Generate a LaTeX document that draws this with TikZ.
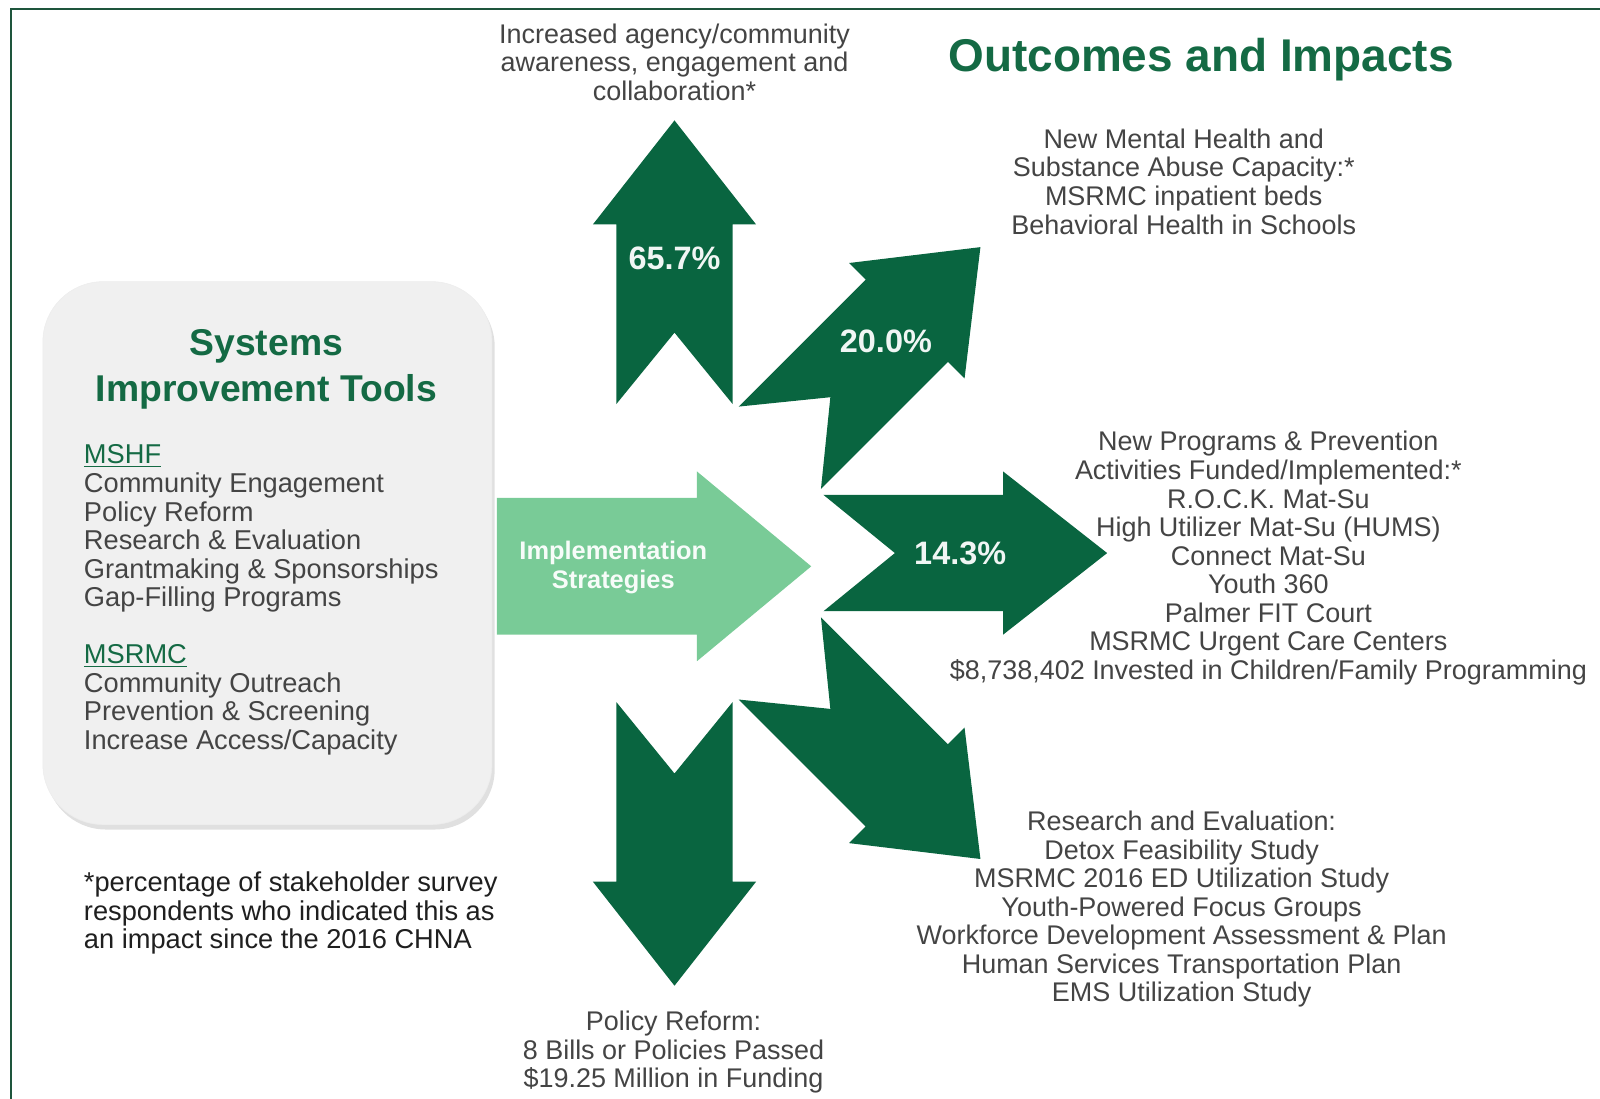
\documentclass[tikz,border=0pt]{standalone}
\usepackage{fontspec}
\setmainfont{Liberation Sans}
\usetikzlibrary{positioning,calc,shadows}

\definecolor{leafdark}{RGB}{9,101,64}
\definecolor{leaflight}{RGB}{121,203,151}
\definecolor{headgreen}{RGB}{20,106,68}
\definecolor{framegreen}{RGB}{30,85,60}
\definecolor{textgray}{RGB}{68,68,68}
\definecolor{panelgray}{RGB}{240,240,240}

\begin{document}
\begin{tikzpicture}[
  x=0.25mm, y=0.25mm,
  frame/.style={draw=framegreen, line width=1.4pt},
  leaf/.style={fill=leafdark},
  strategy/.style={fill=leaflight},
  outcome/.style={
    text=textgray,
    align=center,
    inner sep=0pt,
    font=\fontsize{18.8}{19.9}\selectfont
  },
  headline/.style={
    text=headgreen,
    inner sep=0pt,
    font=\bfseries\fontsize{32}{36}\selectfont
  },
  pct/.style={
    text=white!94!leafdark,
    inner sep=0pt,
    font=\bfseries\fontsize{22.6}{25}\selectfont
  },
  strategytext/.style={
    text=white!94!leaflight,
    align=center,
    inner sep=0pt,
    font=\bfseries\fontsize{17.7}{19.9}\selectfont
  },
  panel/.style={
    fill=panelgray,
    draw=black!7,
    rounded corners=42pt,
    minimum width=110mm,
    minimum height=133mm,
    drop shadow={shadow xshift=2pt, shadow yshift=-3.5pt, fill=black!30, opacity=.4}
  },
  panelhead/.style={
    text=headgreen,
    align=center,
    inner sep=0pt,
    font=\bfseries\fontsize{26}{32}\selectfont
  },
  panellist/.style={
    text=textgray,
    align=left,
    inner sep=0pt,
    font=\fontsize{19}{19.9}\selectfont
  },
  note/.style={
    text=black!88,
    align=left,
    inner sep=0pt,
    font=\fontsize{19}{19.9}\selectfont
  }
]
\useasboundingbox (0,0) rectangle (1568,-1077);
\draw[frame] (11,-1077) -- (11,-9) -- (1568,-9);

\coordinate (hub) at (661,-542);

\foreach \ang in {90,45,0,-45,-90}
  \fill[leaf, shift={(hub)}, rotate=\ang]
    (146,57) -- (322,57) -- (322,80) -- (424,0) -- (322,-80)
    -- (322,-57) -- (146,-57) -- (216,0) -- cycle;

\foreach \ang/\dist/\val in {90/289/65.7, 45/293/20.0, 0/280/14.3}
  \node[pct] (pct-\ang) at ($(hub)+(\ang:\dist)$) {\val\%};

\fill[strategy] (487,-488) -- (683,-488) -- (683,-462) -- (795,-555)
  -- (683,-648) -- (683,-622) -- (487,-622) -- cycle;
\node[strategytext] (strategies) at (601,-556) {Implementation\\Strategies};

\node[panel] (panel) at (262,-542) {};
\node[panelhead] (panelhead) at (261,-362) {Systems\\Improvement Tools};
\node[panellist, anchor=west] (toollist) at (82,-588)
  {\textcolor{headgreen}{\underline{MSHF}}\\
   Community Engagement\\
   Policy Reform\\
   Research \& Evaluation\\
   Grantmaking \& Sponsorships\\
   Gap-Filling Programs\\[19.9pt]
   \textcolor{headgreen}{\underline{MSRMC}}\\
   Community Outreach\\
   Prevention \& Screening\\
   Increase Access/Capacity};
\node[note, anchor=west] (note) at (82,-895)
  {*percentage of stakeholder survey\\
   respondents who indicated this as\\
   an impact since the 2016 CHNA};

\node[headline] (title) at (1177,-58) {Outcomes and Impacts};
\node[outcome] (awareness) at (661,-61)
  {Increased agency/community\\
   awareness, engagement and\\
   collaboration*};
\node[outcome] (capacity) at (1160,-178)
  {New Mental Health and\\
   Substance Abuse Capacity:*\\
   MSRMC inpatient beds\\
   Behavioral Health in Schools};
\node[outcome] (programs) at (1243,-547)
  {New Programs \& Prevention\\
   Activities Funded/Implemented:*\\
   R.O.C.K. Mat-Su\\
   High Utilizer Mat-Su (HUMS)\\
   Connect Mat-Su\\
   Youth 360\\
   Palmer FIT Court\\
   MSRMC Urgent Care Centers\\
   \$8,738,402 Invested in Children/Family Programming};
\node[outcome] (research) at (1158,-891)
  {Research and Evaluation:\\
   Detox Feasibility Study\\
   MSRMC 2016 ED Utilization Study\\
   Youth-Powered Focus Groups\\
   Workforce Development Assessment \& Plan\\
   Human Services Transportation Plan\\
   EMS Utilization Study};
\node[outcome] (policy) at (660,-1031)
  {Policy Reform:\\
   8 Bills or Policies Passed\\
   \$19.25 Million in Funding};
\end{tikzpicture}
\end{document}
